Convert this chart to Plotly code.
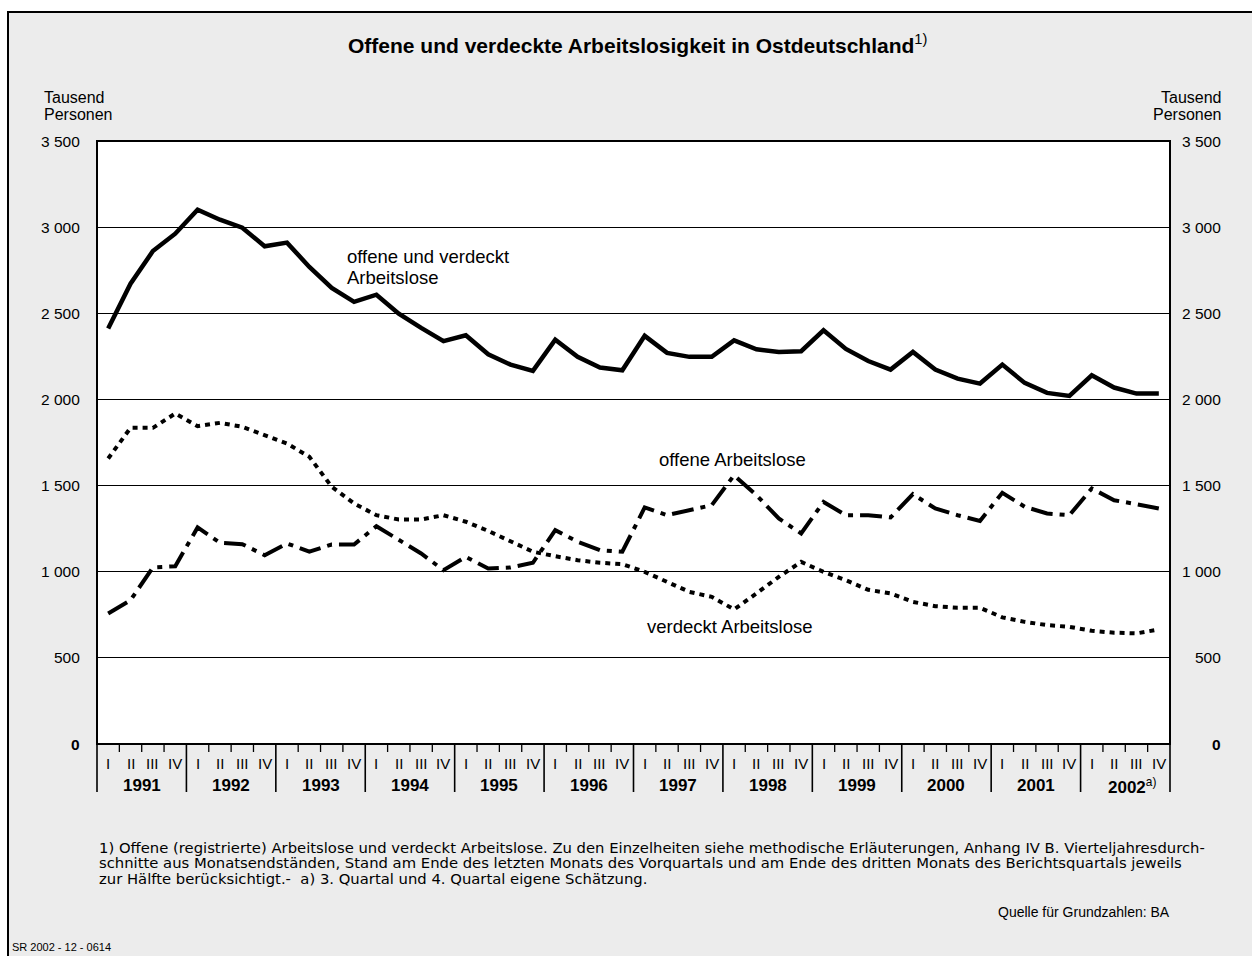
import plotly.graph_objects as go

# ---------------- data ----------------
years = ["1991", "1992", "1993", "1994", "1995", "1996", "1997", "1998",
         "1999", "2000", "2001", "2002"]
quarters = ["I", "II", "III", "IV"]

total = [2411, 2672, 2861, 2962, 3101, 3043, 2997, 2889, 2910, 2769, 2647, 2566,
         2608, 2498, 2415, 2338, 2372, 2262, 2202, 2166, 2347, 2247, 2185, 2169,
         2369, 2270, 2247, 2247, 2343, 2291, 2276, 2280, 2401, 2293, 2223, 2173,
         2276, 2173, 2121, 2092, 2202, 2096, 2038, 2020, 2140, 2069, 2034, 2034]
offene = [758, 835, 1025, 1032, 1257, 1168, 1160, 1096, 1164, 1116, 1158, 1158,
          1264, 1183, 1106, 1009, 1086, 1019, 1025, 1052, 1241, 1174, 1125, 1116,
          1373, 1328, 1357, 1386, 1560, 1444, 1309, 1222, 1405, 1328, 1328, 1315,
          1450, 1367, 1328, 1295, 1458, 1377, 1338, 1328, 1483, 1415, 1392, 1367]
verdeckt = [1657, 1835, 1835, 1918, 1845, 1864, 1841, 1792, 1744, 1667, 1493, 1396,
            1328, 1303, 1303, 1328, 1290, 1237, 1174, 1116, 1090, 1067, 1052, 1044,
            999, 941, 883, 854, 781, 874, 970, 1057, 999, 951, 895, 874,
            825, 800, 791, 791, 735, 709, 690, 680, 657, 646, 642, 665]
y_ticks = [0, 500, 1000, 1500, 2000, 2500, 3000, 3500]

title = "Offene und verdeckte Arbeitslosigkeit in Ostdeutschland"
unit_lines = ["Tausend", "Personen"]
foot_lines = [
    "1) Offene (registrierte) Arbeitslose und verdeckt Arbeitslose. Zu den Einzelheiten siehe methodische Erläuterungen, Anhang IV B. Vierteljahresdurch-",
    "schnitte aus Monatsendständen, Stand am Ende des letzten Monats des Vorquartals und am Ende des dritten Monats des Berichtsquartals jeweils",
    "zur Hälfte berücksichtigt.-  a) 3. Quartal und 4. Quartal eigene Schätzung.",
]
source = "Quelle für Grundzahlen: BA"
code = "SR 2002 - 12 - 0614"

# ---------------- layout geometry ----------------
W, H = 1252, 956
L, R, T, B = 97, 1170, 141, 744
FONT = "Liberation Sans, Arial, sans-serif"
FOOT_FONT = "DejaVu Sans, sans-serif"


def fx(px):
    return (px - L) / (R - L)


def fy(py):
    return (B - py) / (B - T)


n = len(total)
x = list(range(n))

fig = go.Figure()
fig.add_trace(go.Scatter(x=x, y=total, mode="lines",
                         line=dict(color="black", width=4.5), hoverinfo="skip"))
fig.add_trace(go.Scatter(x=x, y=offene, mode="lines",
                         line=dict(color="black", width=4, dash="22px,7px,5px,7px"),
                         hoverinfo="skip"))
fig.add_trace(go.Scatter(x=x, y=verdeckt, mode="lines",
                         line=dict(color="black", width=4, dash="5px,5px"),
                         hoverinfo="skip"))

shapes = [
    dict(type="rect", xref="paper", yref="paper", x0=fx(8), x1=fx(1265),
         y0=fy(975), y1=fy(12), fillcolor="#ececec",
         line=dict(color="black", width=2), layer="below"),
    dict(type="rect", xref="paper", yref="paper", x0=0, x1=1, y0=0, y1=1,
         fillcolor="white", line=dict(width=0), layer="below"),
    dict(type="rect", xref="paper", yref="paper", x0=0, x1=1, y0=0, y1=1,
         line=dict(color="black", width=2), layer="above"),
]
for k in range(n + 1):
    major = (k % 4 == 0)
    shapes.append(dict(type="line", xref="paper", yref="paper",
                       x0=k / n, x1=k / n, y0=0, y1=fy(792 if major else 752),
                       line=dict(color="black", width=1.6 if major else 1.3)))

ann = []
# title
ann.append(dict(xref="paper", yref="paper", x=fx(637), y=fy(44),
                text="<b>" + title + "</b><sup>1)</sup>", showarrow=False,
                font=dict(family=FONT, size=21, color="black"),
                xanchor="center", yanchor="middle"))
# unit labels
for i, t in enumerate(unit_lines):
    ann.append(dict(xref="paper", yref="paper", x=fx(42), y=fy(97 + 17 * i), text=t,
                    showarrow=False, font=dict(family=FONT, size=16, color="black"),
                    xanchor="left", yanchor="middle"))
    ann.append(dict(xref="paper", yref="paper", x=fx(1224), y=fy(97 + 17 * i), text=t,
                    showarrow=False, font=dict(family=FONT, size=16, color="black"),
                    xanchor="right", yanchor="middle"))
# y tick labels both sides
for v in y_ticks:
    txt = f"{v:,}".replace(",", " ")
    if v == 0:
        txt = "<b>0</b>"
    ann.append(dict(xref="paper", yref="y", x=0, y=v, xshift=-15, text=txt,
                    showarrow=False, font=dict(family=FONT, size=15.5, color="black"),
                    xanchor="right", yanchor="middle"))
    ann.append(dict(xref="paper", yref="y", x=1, y=v, xshift=53, text=txt,
                    showarrow=False, font=dict(family=FONT, size=15.5, color="black"),
                    xanchor="right", yanchor="middle"))
# quarter labels
for i in range(n):
    ann.append(dict(xref="x", yref="paper", x=i, y=fy(763), text=quarters[i % 4],
                    showarrow=False, font=dict(family=FONT, size=15, color="black"),
                    xanchor="center", yanchor="middle"))
# year labels
for j, yr in enumerate(years):
    last = (j == len(years) - 1)
    ann.append(dict(xref="x", yref="paper", x=4 * j + 1.5, y=fy(786),
                    text="<b>" + yr + "</b>" + ("<sup>a)</sup>" if last else ""),
                    xshift=7 if last else 0,
                    showarrow=False, font=dict(family=FONT, size=17, color="black"),
                    xanchor="center", yanchor="middle"))
# series labels
ann.append(dict(xref="paper", yref="paper", x=fx(345), y=fy(256),
                text="offene und verdeckt", showarrow=False,
                font=dict(family=FONT, size=18.5, color="black"),
                xanchor="left", yanchor="middle"))
ann.append(dict(xref="paper", yref="paper", x=fx(345), y=fy(277),
                text="Arbeitslose", showarrow=False,
                font=dict(family=FONT, size=18.5, color="black"),
                xanchor="left", yanchor="middle"))
ann.append(dict(xref="paper", yref="paper", x=fx(732), y=fy(460),
                text="offene Arbeitslose", showarrow=False,
                font=dict(family=FONT, size=18.5, color="black"),
                xanchor="center", yanchor="middle"))
ann.append(dict(xref="paper", yref="paper", x=fx(730), y=fy(626),
                text="verdeckt Arbeitslose", showarrow=False,
                font=dict(family=FONT, size=18.5, color="black"),
                xanchor="center", yanchor="middle"))
# footnotes
for i, t in enumerate(foot_lines):
    ann.append(dict(xref="paper", yref="paper", x=fx(97), y=fy(847 + 15.5 * i), text=t,
                    showarrow=False, font=dict(family=FOOT_FONT, size=14.8, color="black"),
                    xanchor="left", yanchor="middle"))
ann.append(dict(xref="paper", yref="paper", x=fx(1172), y=fy(912), text=source,
                showarrow=False, font=dict(family=FONT, size=14, color="black"),
                xanchor="right", yanchor="middle"))
ann.append(dict(xref="paper", yref="paper", x=fx(10), y=fy(947), text=code,
                showarrow=False, font=dict(family=FONT, size=11, color="black"),
                xanchor="left", yanchor="middle"))

fig.update_layout(
    width=W, height=H,
    margin=dict(l=L, r=W - R, t=T, b=H - B, pad=0),
    paper_bgcolor="white", plot_bgcolor="white",
    showlegend=False,
    xaxis=dict(range=[-0.5, n - 0.5], showgrid=False, zeroline=False,
               showticklabels=False, ticks="", showline=False, fixedrange=True),
    yaxis=dict(range=[0, 3500], tickvals=y_ticks[1:-1], showgrid=True,
               gridcolor="black", gridwidth=1.2, zeroline=False,
               showticklabels=False, ticks="", showline=False, fixedrange=True),
    shapes=shapes, annotations=ann,
    font=dict(family=FONT, color="black"),
)

fig.write_html(
    "out.html",
    config={"displayModeBar": False, "staticPlot": True},
    post_script="document.body.style.margin='0';document.body.style.overflow='hidden';",
)
